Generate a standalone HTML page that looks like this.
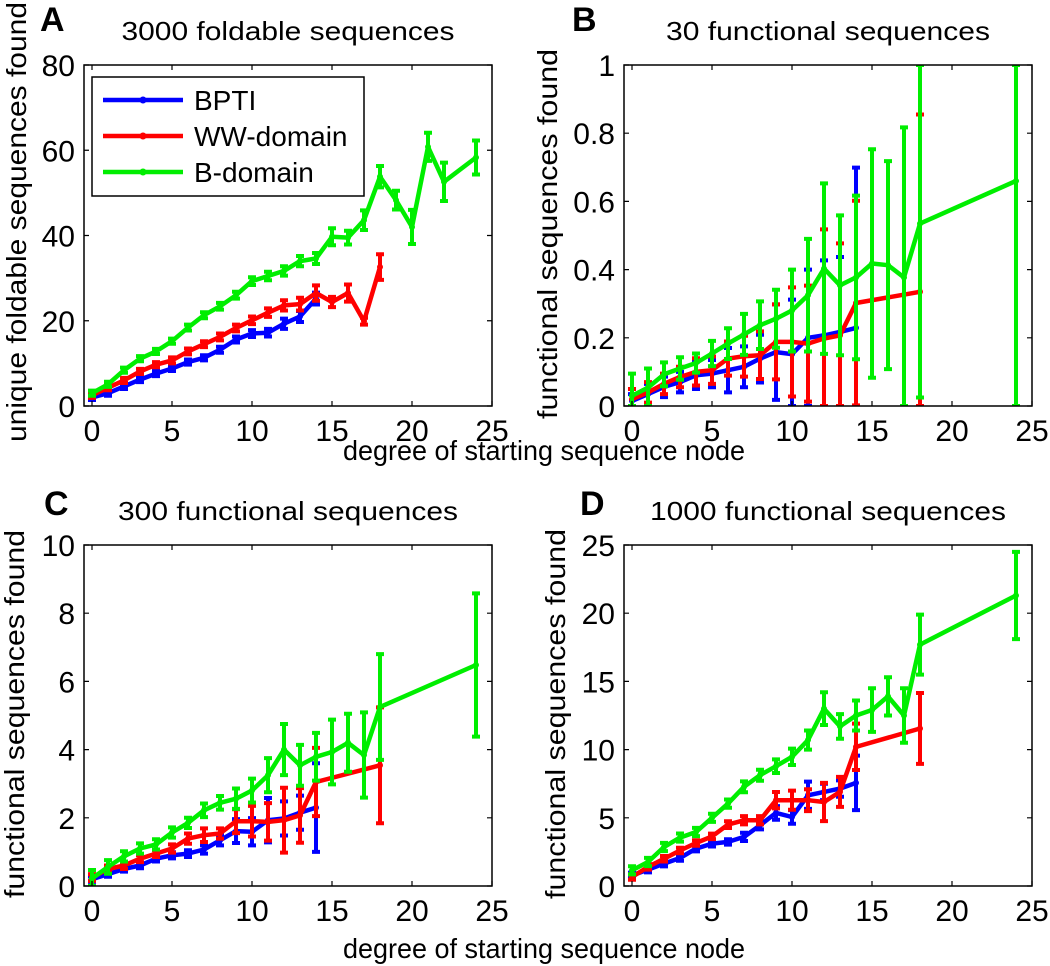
<!DOCTYPE html>
<html><head><meta charset="utf-8"><style>
html,body{margin:0;padding:0;background:#fff}
svg{display:block}
text{font-family:"Liberation Sans",sans-serif;fill:#000}
</style></head><body>
<svg id="fig" width="1050" height="966" viewBox="0 0 1050 966"></svg>
<script>
const xCats = [0,1,2,3,4,5,6,7,8,9,10,11,12,13,14,15,16,17,18,19,20,21,22,24];
const xTicks = [0,5,10,15,20,25];
// Panel A
const aBptiX = [0,1,2,3,4,5,6,7,8,9,10,11,12,13,14];
const aBptiY = [2,3,4.6,6.2,7.6,8.8,10.3,11.3,13.2,15.6,17,17.2,19.3,21,25.2];
const aBptiE = [0.6,0.6,0.6,0.6,0.6,0.6,0.6,0.6,0.7,0.7,0.8,0.9,1.2,1.3,1.4];
const aWwX = [0,1,2,3,4,5,6,7,8,9,10,11,12,13,14,15,16,17,18];
const aWwY = [2.5,4.3,6,8.1,9.7,10.7,12.8,14.5,16.2,18.3,20.1,21.9,23.6,23.9,26.5,24.4,26.5,19.9,32.6];
const aWwE = [0.6,0.6,0.6,0.6,0.6,0.7,0.7,0.7,0.8,0.8,0.9,1,1.2,1.5,1.8,1.2,2,0.8,3];
const aBdX = [0,1,2,3,4,5,6,7,8,9,10,11,12,13,14,15,16,17,18,19,20,21,22,24];
const aBdY = [3,5.1,8.4,11.1,12.8,15.2,18.4,21.3,23.4,26,29.3,30.5,31.7,34,34.6,39.7,39.5,43.6,53.8,48.3,42,60.8,52.6,58.3];
const aBdE = [0.6,0.6,0.6,0.6,0.6,0.6,0.7,0.7,0.8,0.8,0.9,1,1.1,1.2,1.3,2,1.6,2.3,2.5,2.2,4,3.3,4.5,4];
const aYTicks = [0,20,40,60,80];
// Panel B
const bBptiX = [0,1,2,3,4,5,6,7,8,9,10,11,12,13,14];
const bBptiY = [0.015,0.035,0.056,0.07,0.09,0.095,0.105,0.115,0.139,0.158,0.152,0.2,0.207,0.217,0.229];
const bBptiE = [0.02,0.03,0.03,0.03,0.04,0.04,0.065,0.06,0.07,0.14,0.16,0.2,0.22,0.22,0.47];
const bWwX = [0,1,2,3,4,5,6,7,8,9,10,11,12,13,14,18];
const bWwY = [0.02,0.04,0.065,0.085,0.1,0.105,0.139,0.146,0.149,0.188,0.188,0.183,0.198,0.207,0.302,0.335];
const bWwE = [0.03,0.03,0.03,0.03,0.04,0.04,0.05,0.06,0.07,0.11,0.16,0.17,0.32,0.27,0.3,0.52];
const bBdX = [0,1,2,3,4,5,6,7,8,9,10,11,12,13,14,15,16,17,18,24];
const bBdY = [0.03,0.054,0.093,0.11,0.126,0.154,0.183,0.21,0.237,0.256,0.28,0.325,0.403,0.354,0.377,0.418,0.413,0.377,0.535,0.66];
const bBdE = [0.065,0.056,0.035,0.033,0.028,0.037,0.045,0.06,0.07,0.085,0.12,0.165,0.25,0.205,0.24,0.335,0.305,0.44,0.51,0.7];
const bYTicks = [0,0.2,0.4,0.6,0.8,1];
// Panel C
const cBptiX = [0,1,2,3,4,5,6,7,8,9,10,11,12,13,14];
const cBptiY = [0.2,0.35,0.5,0.6,0.8,0.9,0.95,1.07,1.34,1.61,1.59,1.93,1.98,2.15,2.3];
const cBptiE = [0.08,0.08,0.08,0.08,0.08,0.09,0.1,0.12,0.15,0.35,0.4,0.65,0.5,0.5,1.3];
const cWwX = [0,1,2,3,4,5,6,7,8,9,10,11,12,13,14,18];
const cWwY = [0.25,0.5,0.6,0.8,0.95,1.1,1.39,1.49,1.54,1.9,1.9,1.88,1.93,2.07,3.05,3.54];
const cWwE = [0.1,0.1,0.1,0.1,0.1,0.12,0.15,0.2,0.15,0.35,0.45,0.55,0.95,0.8,1.0,1.7];
const cBdX = [0,1,2,3,4,5,6,7,8,9,10,11,12,13,14,15,16,17,18,24];
const cBdY = [0.22,0.56,0.87,1.1,1.22,1.57,1.85,2.22,2.44,2.56,2.8,3.25,4.0,3.54,3.79,3.93,4.2,3.84,5.25,6.48];
const cBdE = [0.25,0.2,0.15,0.15,0.15,0.15,0.15,0.2,0.2,0.3,0.35,0.5,0.75,0.6,0.7,0.95,0.85,1.25,1.55,2.1];
const cYTicks = [0,2,4,6,8,10];
// Panel D
const dBptiX = [0,1,2,3,4,5,6,7,8,9,10,11,12,13,14];
const dBptiY = [0.78,1.2,1.64,2.05,2.74,3.1,3.23,3.6,4.45,5.36,5.06,6.65,6.9,7.14,7.56];
const dBptiE = [0.2,0.2,0.2,0.2,0.2,0.2,0.2,0.3,0.3,0.5,0.5,1.0,0.6,0.6,2.0];
const dWwX = [0,1,2,3,4,5,6,7,8,9,10,11,12,13,14,18];
const dWwY = [0.66,1.4,2.0,2.6,3.15,3.64,4.5,4.82,4.82,6.29,6.29,6.29,6.16,6.9,10.2,11.55];
const dWwE = [0.2,0.2,0.2,0.2,0.2,0.2,0.25,0.3,0.3,0.6,0.7,0.8,1.4,1.1,1.7,2.6];
const dBdX = [0,1,2,3,4,5,6,7,8,9,10,11,12,13,14,15,16,17,18,24];
const dBdY = [1.15,1.76,2.86,3.55,3.96,5.0,6.04,7.27,8.12,8.78,9.47,10.7,13.0,11.7,12.5,12.9,13.9,12.5,17.7,21.3];
const dBdE = [0.3,0.3,0.3,0.3,0.3,0.3,0.3,0.4,0.4,0.5,0.6,0.7,1.2,0.9,1.1,1.6,1.4,2.0,2.2,3.2];
const dYTicks = [0,5,10,15,20,25];

const NS = "http://www.w3.org/2000/svg";
const svg = document.getElementById('fig');
function mk(tag, attrs, parent){ const e=document.createElementNS(NS,tag); for(const k in attrs) e.setAttribute(k,attrs[k]); (parent||svg).appendChild(e); return e; }

function panel(cfg){
  const g = mk('g',{});
  
  
  const L=cfg.x0, R=cfg.x1, T=cfg.y0, B=cfg.y1;
  const ymax = cfg.yTicks[cfg.yTicks.length-1];
  const sx = v => L + (v + 0.5) / 25.5 * (R - L);
  const sy = v => B - Math.max(0, Math.min(ymax, v)) / ymax * (B - T);
  const clip = 'clip-' + cfg.id;
  const cp = mk('clipPath',{id:clip}, g); mk('rect',{x:L,y:T,width:R-L,height:B-T},cp);
  const colors = ['#0000ff','#ff0000','#00ee00'];
  const names = ['bpti','ww-domain','b-domain'];
  cfg.series.forEach((s, si) => {
    const sg = mk('g',{'clip-path':'url(#'+clip+')'}, g);
    
    
    const col = colors[si];
    s.x.forEach((xv, i) => {
      const cx = sx(xv);
      const top = sy(s.y[i] + s.e[i]), bot = sy(s.y[i] - s.e[i]);
      const eb = mk('path',{d:`M${cx},${top}V${bot}M${cx-4},${top}H${cx+4}M${cx-4},${bot}H${cx+4}`,stroke:col,'stroke-width':4,fill:'none'}, sg);
      
      
    });
    const pts = s.x.map((xv,i)=> sx(xv).toFixed(1)+','+sy(s.y[i]).toFixed(1)).join(' ');
    const ln = mk('polyline',{points:pts,stroke:col,'stroke-width':4.5,fill:'none','stroke-linejoin':'round'}, sg);
    
    
    s.x.forEach((xv,i)=>{
      const d = mk('circle',{cx:sx(xv),cy:sy(s.y[i]),r:3,fill:col}, sg);
      
      
    });
  });
  const box = mk('rect',{x:L,y:T,width:R-L,height:B-T,fill:'none',stroke:'#000','stroke-width':1.5}, g);
  
  
  xTicks.forEach(t=>{
    const x=sx(t);
    mk('path',{d:`M${x},${B}V${B-5}M${x},${T}V${T+5}`,stroke:'#000','stroke-width':1.2}, g);
    const tx = mk('text',{x:x,y:B+35,'text-anchor':'middle','font-size':30}, g);
    tx.textContent = t;
    
    
  });
  cfg.yTicks.forEach(t=>{
    const y=sy(t);
    mk('path',{d:`M${L},${y}H${L+5}M${R},${y}H${R-5}`,stroke:'#000','stroke-width':1.2}, g);
    const ty = mk('text',{x:L-9,y:y+11,'text-anchor':'end','font-size':30}, g);
    ty.textContent = t;
    
    
  });
  const tl = mk('text',{x:cfg.tx,y:cfg.ty,'text-anchor':'middle','font-size':26,textLength:cfg.tw,lengthAdjust:'spacingAndGlyphs'}, g);
  tl.textContent = cfg.title;
  
  
  const lb = mk('text',{x:cfg.lx,y:cfg.ly,'font-size':34,'font-weight':'bold'}, g);
  lb.textContent = cfg.id;
  
  
  const yl = mk('text',{x:0,y:0,'text-anchor':'middle','font-size':28,textLength:cfg.yw,lengthAdjust:'spacingAndGlyphs',transform:`translate(${cfg.yx},${cfg.yy}) rotate(-90)`}, g);
  yl.textContent = cfg.ylabel;
  
  
}

panel({id:'A',x0:84,x1:492,y0:65,y1:406,yTicks:aYTicks,title:'3000 foldable sequences',tx:288,ty:40,tw:333,lx:40,ly:31,
  ylabel:'unique foldable sequences found',yx:26,yy:222,yw:440,
  series:[{x:aBptiX,y:aBptiY,e:aBptiE},{x:aWwX,y:aWwY,e:aWwE},{x:aBdX,y:aBdY,e:aBdE}]});
panel({id:'B',x0:624,x1:1032,y0:65,y1:406,yTicks:bYTicks,title:'30 functional sequences',tx:828,ty:40,tw:324,lx:572,ly:31,
  ylabel:'functional sequences found',yx:557,yy:234,yw:370,
  series:[{x:bBptiX,y:bBptiY,e:bBptiE},{x:bWwX,y:bWwY,e:bWwE},{x:bBdX,y:bBdY,e:bBdE}]});
panel({id:'C',x0:84,x1:492,y0:545,y1:886,yTicks:cYTicks,title:'300 functional sequences',tx:288,ty:520,tw:340,lx:44,ly:515,
  ylabel:'functional sequences found',yx:24,yy:714,yw:368,
  series:[{x:cBptiX,y:cBptiY,e:cBptiE},{x:cWwX,y:cWwY,e:cWwE},{x:cBdX,y:cBdY,e:cBdE}]});
panel({id:'D',x0:624,x1:1032,y0:545,y1:886,yTicks:dYTicks,title:'1000 functional sequences',tx:828,ty:520,tw:356,lx:580,ly:515,
  ylabel:'functional sequences found',yx:565,yy:714,yw:370,
  series:[{x:dBptiX,y:dBptiY,e:dBptiE},{x:dWwX,y:dWwY,e:dWwE},{x:dBdX,y:dBdY,e:dBdE}]});

[[460],[958]].forEach(([y])=>{
  const t = mk('text',{x:544,y:y,'text-anchor':'middle','font-size':28,textLength:402,lengthAdjust:'spacingAndGlyphs'});
  t.textContent = 'degree of starting sequence node';
  
  
});

const lg = mk('g',{});


mk('rect',{x:92,y:77,width:272,height:119,fill:'#fff',stroke:'#000','stroke-width':1.5}, lg);
const legNames = ['BPTI','WW-domain','B-domain'];
const legCols = ['#0000ff','#ff0000','#00ee00'];
legNames.forEach((n,i)=>{
  const y = 100 + i*36;
  const e = mk('g',{}, lg);
  
  
  mk('line',{x1:103,x2:183,y1:y,y2:y,stroke:legCols[i],'stroke-width':4.5}, e);
  mk('circle',{cx:143,cy:y,r:3.5,fill:legCols[i]}, e);
  const t = mk('text',{x:194,y:y+10,'font-size':28}, e);
  t.textContent = n;
});
</script>
</body></html>
